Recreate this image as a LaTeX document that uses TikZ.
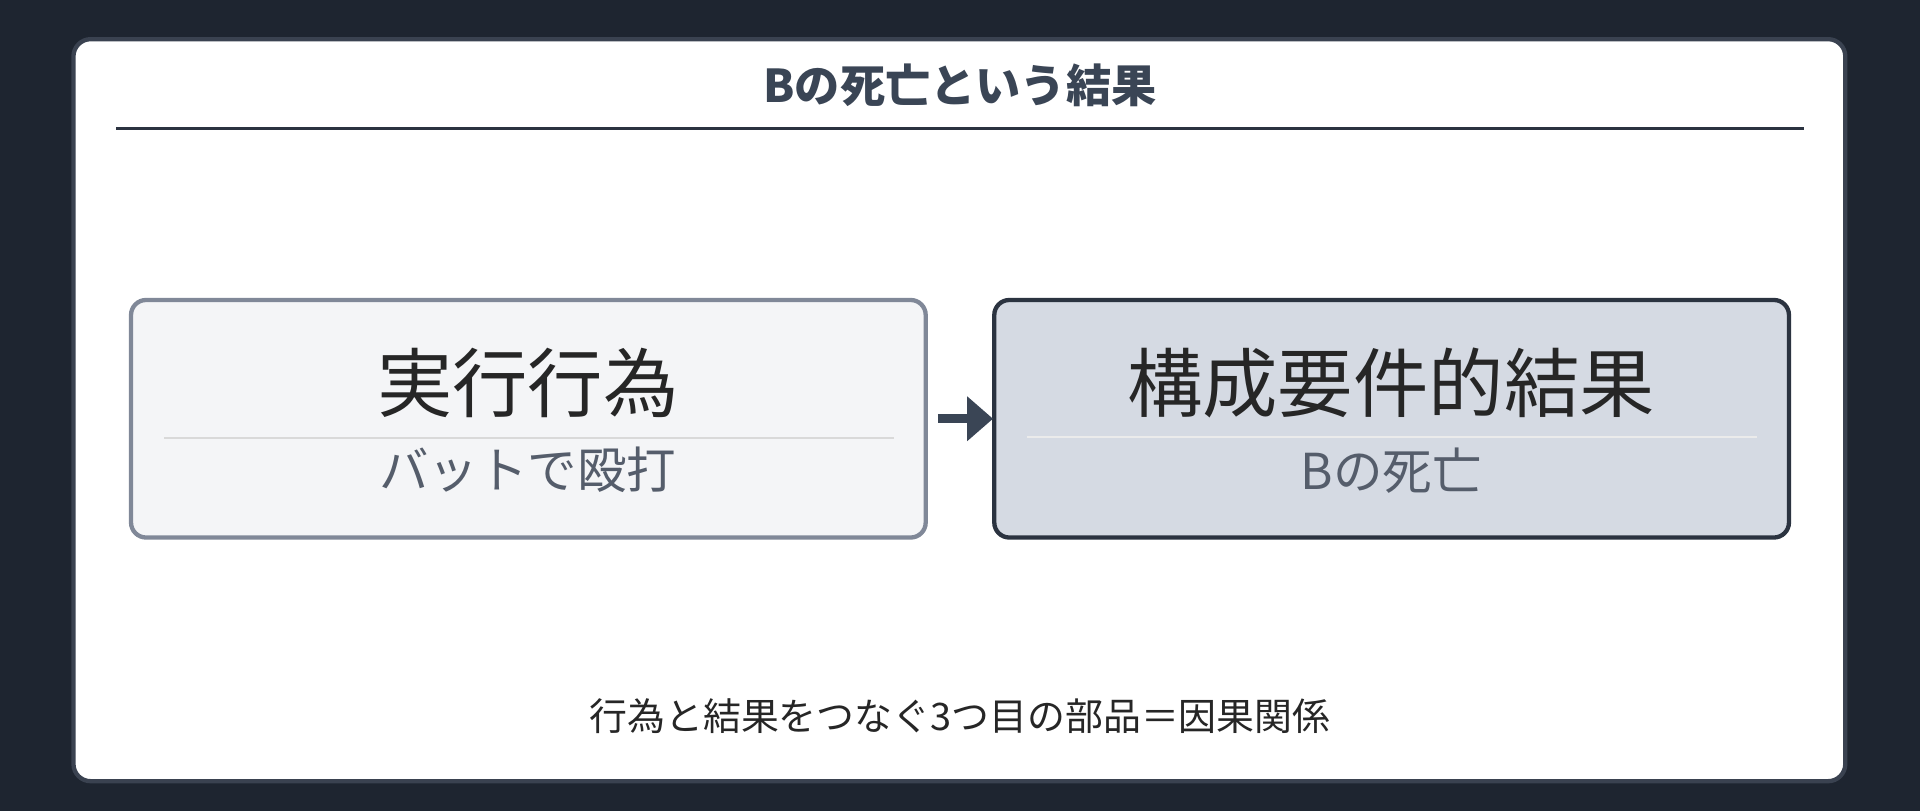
\documentclass[tikz,border=0pt]{standalone}
\usepackage{fontspec}
\setmainfont{Noto Sans CJK JP}
\usetikzlibrary{arrows.meta}
\definecolor{bg}{HTML}{1E2530}
\definecolor{cardb}{HTML}{3A4250}
\definecolor{titc}{HTML}{3A4555}
\definecolor{lfill}{HTML}{F4F5F7}
\definecolor{lbord}{HTML}{808898}
\definecolor{rfill}{HTML}{D5DAE3}
\definecolor{rbord}{HTML}{2B3340}
\definecolor{subc}{HTML}{555D6B}
\begin{document}
\begin{tikzpicture}[x=0.01cm,y=-0.01cm,
  box/.style={rounded corners=3.5pt,line width=1pt},
  main/.style={font=\fontsize{17.5}{20}\selectfont,text=black!85},
  sub/.style={font=\fontsize{11.5}{14}\selectfont,text=subc}]
\fill[bg] (0,0) rectangle (1568,662);
\useasboundingbox (0,0) rectangle (1568,662);
\draw[fill=white,draw=cardb,line width=1pt,rounded corners=4pt] (60,32) rectangle (1507,638);
\node[font=\fontsize{10.5}{12}\selectfont\bfseries,text=titc] (title) at (784,70) {Bの死亡という結果};
\draw[line width=0.6pt,color=rbord] (95,105) -- (1473,105);
\draw[box,fill=lfill,draw=lbord] (107,245) rectangle (756,439);
\node[main] (l1) at (431,313) {実行行為};
\draw[line width=0.5pt,color=black!15] (134,358) -- (730,358);
\node[sub] (l2) at (431,384) {バットで殴打};
\draw[box,fill=rfill,draw=rbord] (812,245) rectangle (1461,439);
\node[main] (r1) at (1136,313) {構成要件的結果};
\draw[line width=0.5pt,color=black!8] (839,357) -- (1435,357);
\node[sub] (r2) at (1136,384) {Bの死亡};
\coordinate (a1) at (766,342);
\coordinate (a2) at (811,342);
\draw[line width=2pt,color=titc,-{Triangle[length=6pt,width=10pt]}] (a1) -- (a2);
\node[font=\fontsize{8.8}{10}\selectfont,text=black!85] (foot) at (784,585) {行為と結果をつなぐ3つ目の部品＝因果関係};
\end{tikzpicture}
\end{document}
